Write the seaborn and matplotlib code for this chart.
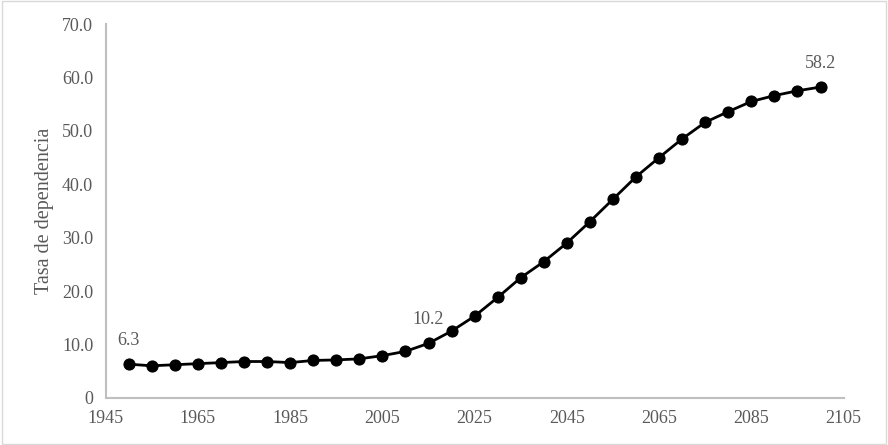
import matplotlib
matplotlib.use("Agg")
import matplotlib.pyplot as plt
import seaborn as sns
import pandas as pd
from matplotlib.patches import Rectangle

years = list(range(1950, 2101, 5))
values = [6.3, 6.0, 6.2, 6.4, 6.6, 6.8, 6.8, 6.6, 7.0, 7.1, 7.3, 7.9, 8.7, 10.2,
          12.5, 15.3, 18.8, 22.5, 25.5, 29.0, 33.0, 37.2, 41.4, 45.0, 48.5, 51.6,
          53.6, 55.5, 56.6, 57.5, 58.2]
labeled_years = [1950, 2015, 2100]
x_ticks = list(range(1945, 2106, 20))
y_ticks = [0, 10, 20, 30, 40, 50, 60, 70]
y_tick_labels = ["0", "10.0", "20.0", "30.0", "40.0", "50.0", "60.0", "70.0"]
y_label = "Tasa de dependencia"

df = pd.DataFrame({"year": years, "value": values})

sns.set_theme(style="white")
plt.rcParams["font.family"] = ["Liberation Serif", "DejaVu Serif"]
text_color = "#595959"
axis_color = "#bfbfbf"

fig = plt.figure(figsize=(8.88, 4.45), dpi=100)
ax = fig.add_axes([0.119, 0.106, 0.831, 0.840])

sns.lineplot(data=df, x="year", y="value", ax=ax, color="black", linewidth=2.0,
             marker="o", markersize=8, markeredgecolor="black",
             markerfacecolor="black")

for yr, v in zip(years, values):
    if yr in labeled_years:
        ax.annotate(f"{v:.1f}", (yr, v), xytext=(0, 11), textcoords="offset points",
                    ha="center", va="bottom", fontsize=13, color=text_color)

ax.set_xlim(1945, 2105)
ax.set_ylim(0, 70)
ax.set_xticks(x_ticks)
ax.set_xticklabels([str(t) for t in x_ticks])
ax.set_yticks(y_ticks)
ax.set_yticklabels(y_tick_labels)
ax.set_xlabel("")
ax.set_ylabel(y_label, fontsize=14.5, color=text_color, labelpad=6)
ax.tick_params(axis="both", length=0, labelsize=13, labelcolor=text_color)
ax.tick_params(axis="x", pad=9)
ax.tick_params(axis="y", pad=9)
ax.grid(False)
for side in ["top", "right"]:
    ax.spines[side].set_visible(False)
for side in ["left", "bottom"]:
    ax.spines[side].set_color(axis_color)
    ax.spines[side].set_linewidth(1.5)

fig.patches.append(Rectangle((0.002, 0.003), 0.996, 0.994, transform=fig.transFigure,
                             fill=False, edgecolor="#d9d9d9", linewidth=1))

fig.savefig("out.png", dpi=100)
